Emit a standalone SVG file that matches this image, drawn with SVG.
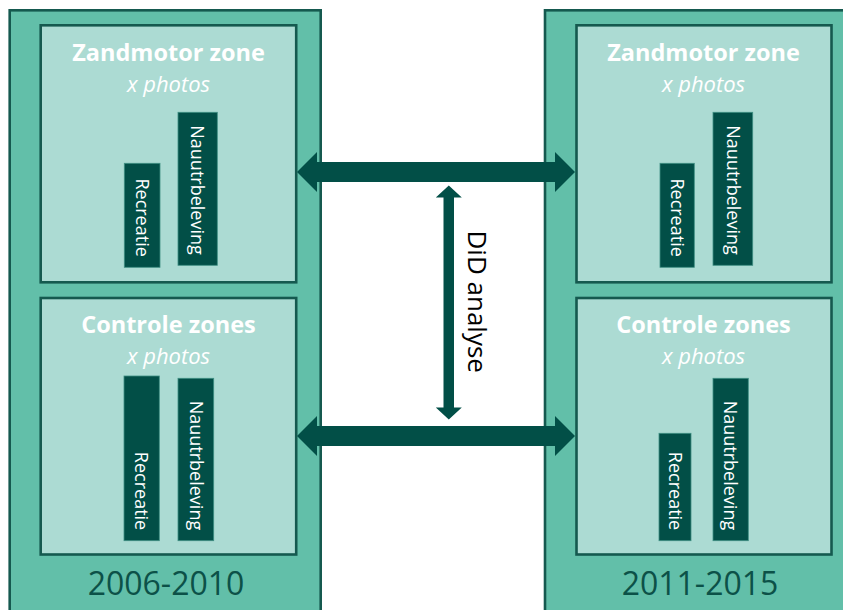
<svg xmlns="http://www.w3.org/2000/svg" width="843" height="610" viewBox="0 0 843 610">
  <style>
    .period { fill: #62bfa9; stroke: #15594f; stroke-width: 2.6; }
    .zone { fill: #acdbd3; stroke: #15594f; stroke-width: 2.6; }
    .bar { fill: #024f47; stroke: #3f8f83; stroke-width: 0.8; }
    .title { font-family: "Open Sans", "Liberation Sans", sans-serif; font-weight: bold; font-size: 23.5px; fill: #ffffff; text-anchor: middle; }
    .count { font-family: "Open Sans", "Liberation Sans", sans-serif; font-style: italic; font-size: 22px; fill: #ffffff; text-anchor: middle; }
    .barlabel { font-family: "Open Sans", "Liberation Sans", sans-serif; font-size: 18px; fill: #ffffff; text-anchor: end; }
    .year { font-family: "Open Sans", "Liberation Sans", sans-serif; font-size: 32px; fill: #0c5148; text-anchor: middle; }
    .link { fill: #024f47; }
    .linklabel { font-family: "Open Sans", "Liberation Sans", sans-serif; font-size: 26px; fill: #000000; text-anchor: middle; }
  </style>

  <rect width="843" height="610" fill="#ffffff"/>

  <!-- Period 2006-2010 -->
  <g id="period-2006-2010">
    <rect class="period" x="9.7" y="10.3" width="311" height="640"/>
    <text class="year" x="166" y="595">2006-2010</text>
  </g>

  <!-- Period 2011-2015 -->
  <g id="period-2011-2015">
    <rect class="period" x="545" y="10.3" width="340" height="640"/>
    <text class="year" x="700" y="595">2011-2015</text>
  </g>

  <!-- 2006-2010: Zandmotor zone -->
  <g id="zandmotor-2006-2010">
    <rect class="zone" x="40.7" y="25.3" width="255.5" height="257"/>
    <text class="title" x="168.5" y="61">Zandmotor zone</text>
    <text class="count" x="168.5" y="92">x photos</text>
    <rect class="bar" x="124.3" y="163.3" width="35.7" height="104"/>
    <text class="barlabel" transform="translate(135.8 256.8) rotate(90)">Recreatie</text>
    <rect class="bar" x="178" y="112.3" width="39.3" height="153"/>
    <text class="barlabel" transform="translate(191.3 254.8) rotate(90)">Nauutrbeleving</text>
  </g>

  <!-- 2006-2010: Controle zones -->
  <g id="controle-2006-2010">
    <rect class="zone" x="40.7" y="298" width="255.5" height="256.5"/>
    <text class="title" x="168.5" y="333">Controle zones</text>
    <text class="count" x="168.5" y="364">x photos</text>
    <rect class="bar" x="124" y="376" width="35.3" height="164.7"/>
    <text class="barlabel" transform="translate(135.3 530.2) rotate(90)">Recreatie</text>
    <rect class="bar" x="178" y="378.3" width="35.7" height="162.4"/>
    <text class="barlabel" transform="translate(189.5 530.2) rotate(90)">Nauutrbeleving</text>
  </g>

  <!-- 2011-2015: Zandmotor zone -->
  <g id="zandmotor-2011-2015">
    <rect class="zone" x="576.5" y="25.3" width="255" height="257"/>
    <text class="title" x="703.5" y="61">Zandmotor zone</text>
    <text class="count" x="703.5" y="92">x photos</text>
    <rect class="bar" x="660" y="163.3" width="34.3" height="104"/>
    <text class="barlabel" transform="translate(670.8 256.8) rotate(90)">Recreatie</text>
    <rect class="bar" x="713" y="112.3" width="39.7" height="153"/>
    <text class="barlabel" transform="translate(726.5 254.8) rotate(90)">Nauutrbeleving</text>
  </g>

  <!-- 2011-2015: Controle zones -->
  <g id="controle-2011-2015">
    <rect class="zone" x="576.5" y="298" width="255" height="256.5"/>
    <text class="title" x="703.5" y="333">Controle zones</text>
    <text class="count" x="703.5" y="364">x photos</text>
    <rect class="bar" x="659" y="433.3" width="32" height="107.4"/>
    <text class="barlabel" transform="translate(668.6 530.2) rotate(90)">Recreatie</text>
    <rect class="bar" x="713" y="378.3" width="35.3" height="162.4"/>
    <text class="barlabel" transform="translate(724.3 530.2) rotate(90)">Nauutrbeleving</text>
  </g>

  <!-- Connectors: period comparisons and the DiD link between zones -->
  <g id="connectors">
    <polygon class="link" points="297,172 317,152 317,162 555,162 555,152 575,172 555,192 555,182 317,182 317,192"/>
    <polygon class="link" points="297,436 317,416 317,426 555,426 555,416 575,436 555,456 555,446 317,446 317,456"/>
    <polygon class="link" points="448.8,185.5 461.8,197.5 454,197.5 454,407.5 461.8,407.5 448.8,419.5 435.8,407.5 443.5,407.5 443.5,197.5 435.8,197.5"/>
    <text class="linklabel" transform="translate(467.5 301.7) rotate(90)">DiD analyse</text>
  </g>
</svg>
